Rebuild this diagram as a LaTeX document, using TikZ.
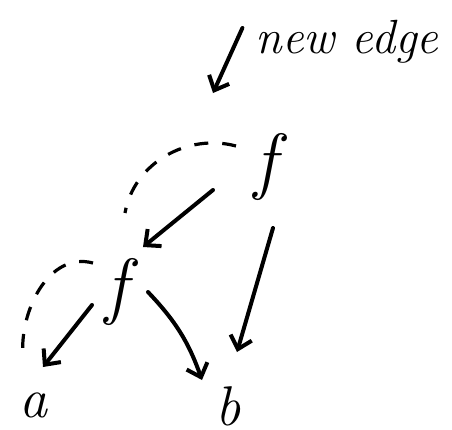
\documentclass[tikz,border=0pt]{standalone}
\usepackage{amsmath}
\usetikzlibrary{arrows.meta}

\begin{document}
\begin{tikzpicture}[
  x=.5pt,y=-.5pt,
  sym/.style={inner sep=0pt,font=\fontsize{37}{40}\selectfont\itshape},
  leaf/.style={inner sep=0pt,font=\fontsize{28}{30}\selectfont\itshape},
  note/.style={inner sep=0pt,font=\fontsize{24}{26}\selectfont\itshape},
  edge/.style={-{Straight Barb[length=6pt,width=11pt]},line width=2pt,line cap=round},
  share/.style={line width=1.6pt,dash pattern=on 7pt off 7pt}
]
\useasboundingbox (0,0) rectangle (452,430);

\node[note] (lbl) at (347,42) {new edge};
\coordinate (newtip) at (213,93);
\node[sym] (ftop) at (266,167) {f};
\node[sym] (flow) at (117,292) {f};
\node[leaf] (a) at (33,405) {a};
\node[leaf] (b) at (228,406) {b};

% pointer to the new edge
\draw[edge] ([shift={(-13,-14)}]lbl.west) -- (newtip);

% tree edges
\draw[edge] ([shift={(-53,23)}]ftop.center) -- ([shift={(26,-45)}]flow.center);
\draw[edge] ([shift={(7,61)}]ftop.center) -- ([shift={(9,-54)}]b.center);
\draw[edge] ([shift={(-25,13)}]flow.center) -- ([shift={(10,-38)}]a.center);
\draw[edge] ([shift={(31,0)}]flow.center) to[bend left=12] ([shift={(-26,-26)}]b.center);

% shared (dashed) edges
\draw[share] ([shift={(-30,-21)}]ftop.center) to[out=165,in=80] ([shift={(8,-79)}]flow.center);
\draw[share] ([shift={(-24,-29)}]flow.center) to[out=165,in=95] ([shift={(-10,-48)}]a.center);
\end{tikzpicture}
\end{document}
